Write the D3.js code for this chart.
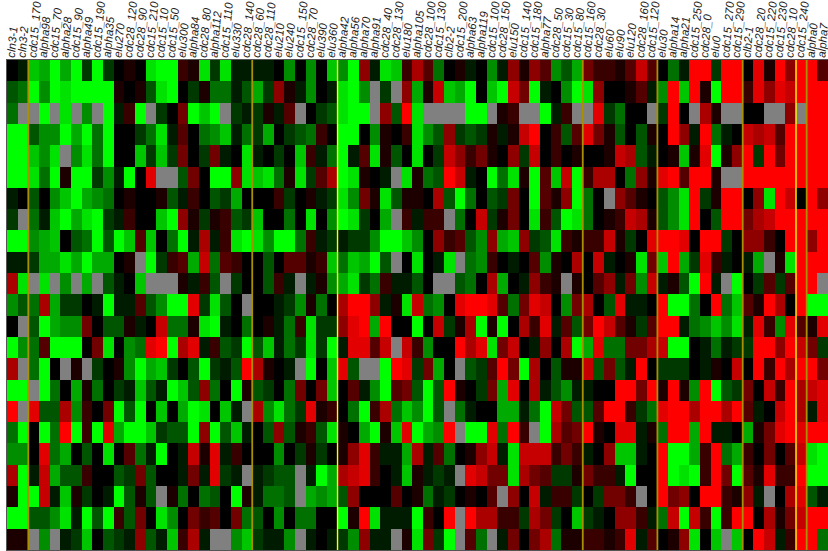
<!DOCTYPE html>
<html>
<head>
<meta charset="utf-8">
<script src="https://cdn.jsdelivr.net/npm/d3@7"></script>
<style>
  html, body { margin: 0; padding: 0; background: #fff; overflow: hidden; }
  svg { display: block; }
</style>
</head>
<body>
<script>

var _ = null;  // missing value, drawn grey

var conditions = ["cln3-1","cln3-2","cdc15_170","alpha98","cdc15_70","alpha28","cdc15_90","alpha49","cdc15_190","alpha35",
    "elu270","cdc28_120","cdc28_90","cdc15_210","cdc15_10","cdc15_50","elu300","alpha84","cdc28_80","alpha112",
    "cdc15_110","elu330","cdc28_140","cdc28_60","cdc28_110","elu210","elu240","cdc15_150","cdc28_70","elu390",
    "elu360","alpha42","alpha56","alpha70","alpha91","cdc28_40","cdc28_130","elu180","alpha105","cdc28_100",
    "cdc15_130","clb2-2","cdc15_200","alpha63","alpha119","cdc15_100","cdc28_150","elu150","cdc15_140","cdc15_180",
    "alpha77","cdc28_50","cdc15_30","cdc15_80","cdc15_160","cdc28_30","elu60","elu90","elu120","cdc28_160",
    "cdc15_120","elu30","alpha14","alpha21","cdc15_250","cdc28_0","elu0","cdc15_270","cdc15_290","clb2-1",
    "cdc28_20","cdc15_220","cdc15_230","cdc28_10","cdc15_240","alpha0","alpha7"];

// expression per gene, -9 full green .. 9 full red
var gene00 = [0,-1,-7,-6,-9,-6,-9,-2,-9,-2,0,1,0,-8,-9,-9,2,1,-8,-2,-8,-1,-1,-1,-1,0,-5,0,-5,0,-7,-5,-9,5,-1,-8,-7,2,6,3,-4,0,1,-1,0,-5,-1,5,1,5,3,-5,-3,-6,4,2,2,1,3,7,3,0,-4,-1,9,9,-2,9,9,0,8,1,9,5,9,9,3];
var gene01 = [-3,-4,-9,-5,-9,-8,-9,-9,-9,-9,1,0,1,-3,-8,-9,0,-2,1,-4,-4,-1,-3,-6,-2,5,1,-1,-5,0,-1,-8,-9,-5,_,-2,_,5,-6,1,7,-7,-6,-9,0,-7,-9,7,4,-9,-1,0,-5,-9,-8,5,0,0,1,3,-1,-5,9,-7,9,1,-9,9,9,2,8,5,8,7,9,9,9];
var gene02 = [-4,_,_,-9,_,-8,_,-5,_,-9,-1,2,-9,_,-2,0,4,-9,-7,-9,_,-2,-1,-2,1,-1,3,_,0,-2,-3,-8,-9,-9,_,5,-3,9,-8,_,_,_,_,-9,-9,_,1,2,_,_,-9,-1,2,_,_,8,-2,-4,0,0,_,-2,9,0,_,6,1,_,_,0,0,_,_,5,_,9,9];
var gene03 = [-9,-9,-3,-5,-5,-9,-6,-9,-4,-9,0,0,-2,-4,-8,-1,3,0,-4,-5,-7,-1,-4,-2,-6,0,-2,-3,-4,2,0,-9,-9,0,-5,1,0,2,-8,-5,-3,5,-2,-3,-2,1,-1,1,7,9,0,2,-3,3,8,4,1,-3,0,-3,1,0,9,5,-1,9,-4,-1,0,7,6,7,3,9,9,9,9];
var gene04 = [-9,-9,-7,-5,-8,_,-5,-8,-4,-9,0,0,-7,-2,-7,-2,4,0,-2,4,-1,0,-8,-1,0,-2,0,-7,2,-1,-4,-9,-1,3,-8,1,-3,0,-8,0,-2,7,5,2,4,1,0,5,-2,7,0,2,0,1,0,0,1,7,6,-3,-1,0,1,-7,1,8,-9,1,5,9,-2,9,4,9,9,9,9];
var gene05 = [-9,-9,-8,-4,-9,1,-9,-9,-2,-5,-1,-9,0,8,_,_,-3,4,0,-9,-9,5,-8,-7,-8,-4,1,-8,-2,3,6,-9,-8,1,0,-1,_,-8,1,-4,-3,9,7,-1,0,-9,-4,-8,1,-9,3,-7,7,-9,2,6,6,0,-4,5,1,8,9,3,9,9,1,_,_,9,9,9,9,9,9,9,9];
var gene06 = [-1,0,-3,0,-5,-7,-9,-6,-5,-4,0,1,0,0,1,-3,-1,2,0,-3,-2,-6,0,0,0,2,-2,0,1,-1,-2,-8,-5,4,1,-8,-3,1,1,0,6,-3,-9,-4,0,-3,-2,4,0,-9,3,1,5,-9,-4,0,_,5,3,1,0,-3,-5,-8,9,-2,1,9,9,0,5,-8,9,7,0,9,5];
var gene07 = [-2,_,-4,-1,-7,-9,-6,-8,-9,-2,-1,2,0,0,-7,-9,5,1,-2,1,2,-3,-2,-7,0,0,-4,0,-8,0,-5,-9,-8,-2,0,-6,_,2,-1,2,2,_,-4,0,7,-2,1,4,0,-8,2,-3,-9,-8,-4,0,1,2,7,6,1,-3,-5,-8,9,0,-3,9,9,4,6,7,9,9,9,9,9];
var gene08 = [-9,-9,-5,-6,-7,0,-3,-4,-9,-3,-9,-7,3,-7,0,-4,-9,-1,6,-1,2,-8,-9,-8,-5,-9,-9,-4,2,-1,-2,-1,-2,-2,-5,-9,-9,-7,-5,0,5,2,3,-3,-5,5,-6,-7,5,-2,-3,-8,2,1,2,2,7,1,-2,0,8,9,9,8,0,9,9,-2,0,5,5,2,0,9,9,5,9];
var gene09 = [-1,-1,-2,-6,-6,-8,-6,-9,-6,-6,0,1,_,-9,-2,2,3,-6,7,-4,3,2,0,0,-3,0,3,3,1,2,-7,-4,-7,-6,-9,-3,_,0,-8,0,-1,-8,_,-4,-5,2,0,-1,0,3,-5,1,0,6,0,7,-1,0,1,-8,4,-7,9,-6,-2,8,2,-1,0,-1,-6,_,1,-8,9,9,9];
var gene10 = [6,-8,_,-8,_,-5,_,-6,_,-3,-1,0,-7,_,_,_,1,-1,2,-3,_,-2,0,0,-3,2,-1,_,-1,1,-5,-6,-8,-2,-4,2,-1,-1,-3,0,_,_,-3,-4,0,6,-6,0,-1,5,2,1,_,1,0,3,5,-1,4,-5,7,-1,1,-3,-9,9,-1,_,-9,0,-2,3,-2,3,9,9,_];
var gene11 = [-5,-3,-4,6,-6,-2,-2,0,-1,-9,-1,-1,3,-3,-5,-9,-9,8,-2,-8,-3,0,_,0,0,-1,-2,-5,1,-4,0,6,9,9,5,-1,1,-8,7,-4,-5,0,8,9,9,8,3,-4,4,8,7,0,-5,4,6,0,-3,8,-1,-1,0,9,-9,-9,-4,0,9,-4,-7,3,1,9,6,0,9,-9,-9];
var gene12 = [0,_,-3,-9,-6,-5,-5,4,0,-3,-3,1,-1,0,7,-4,-4,1,-8,-9,-1,0,-4,0,1,-1,-4,2,-8,-2,-2,5,8,9,-6,9,0,0,-9,0,7,-2,1,6,-9,1,-9,0,6,2,8,-1,3,-3,4,9,7,3,1,-2,3,9,9,-1,-4,-5,-7,-5,-8,-1,8,2,-5,8,3,1,8];
var gene13 = [-9,-5,-4,3,-9,-9,-9,0,4,-8,0,-5,-4,8,9,-9,6,8,-1,2,-3,-2,-9,-3,-7,-1,-4,-2,-8,-2,-9,-1,8,8,3,7,_,7,2,-5,0,0,9,6,8,-8,4,7,0,-1,5,0,6,-9,-6,8,-4,-4,4,4,6,7,-9,-9,0,-1,-4,-1,-2,-2,9,9,5,9,7,4,-2];
var gene14 = [6,_,-4,-9,0,_,1,_,-2,0,1,-5,-9,-6,-7,-2,0,-3,-9,-2,-1,-3,9,6,1,0,-1,_,-9,0,-7,8,-3,_,_,-9,9,8,-2,4,-6,0,_,-3,-2,3,9,4,-9,6,0,-3,1,1,7,-3,4,-3,-1,9,0,-2,-2,-2,0,-1,1,0,7,0,9,2,9,6,9,9,4];
var gene15 = [-9,-9,_,-9,-4,0,-6,1,-4,0,-2,-1,-7,-3,-1,-9,-7,-3,5,-4,0,-9,1,-3,-2,0,-4,4,0,4,-7,0,3,-1,-5,-9,3,4,-3,-9,-3,9,1,0,-2,4,-6,8,0,6,-1,-3,-5,-1,-1,0,0,9,9,4,9,1,9,1,-5,9,-9,-3,-2,4,0,7,2,9,6,7,8];
var gene16 = [9,_,8,-3,-3,6,-5,2,0,4,-9,-3,-9,0,-7,0,-6,-9,-8,0,-7,-1,_,6,-5,-8,-4,-2,8,1,2,0,-4,-9,2,6,-4,-7,-5,-9,-3,_,-4,-1,0,0,-6,-6,-1,-4,-9,7,4,-3,-3,3,9,9,2,-2,-4,8,9,9,6,9,9,6,9,3,-1,0,7,9,6,-1,8];
var gene17 = [-4,-9,0,-9,-4,9,-9,2,-9,8,-6,-9,-9,-7,-2,-3,-3,-9,5,-9,-3,-7,-1,0,-3,5,-3,1,2,-3,-8,1,0,-6,-9,1,-7,8,-9,-6,-5,9,_,-9,-9,8,-4,9,2,_,-9,6,3,4,9,1,0,8,8,-1,1,-4,9,9,-6,9,-1,-1,0,-6,1,4,8,9,8,9,9];
var gene18 = [-5,-5,0,8,-4,-6,0,-3,0,-8,0,3,-4,-1,-9,0,-1,7,1,8,-1,2,0,0,0,-5,0,-2,1,-2,0,1,5,8,2,-1,-1,-6,6,-1,3,-4,0,1,5,7,-1,-8,7,7,7,2,4,2,-1,0,5,-7,-7,-1,0,9,-9,-9,-6,2,9,-4,-6,2,0,4,0,3,7,-8,-9];
var gene19 = [6,-9,-1,7,-6,-3,-3,2,0,0,-3,-2,4,-3,0,0,-1,4,-1,8,-2,-1,_,-1,-2,-3,-3,_,-1,-9,-6,6,7,8,2,0,-1,-7,1,-1,-2,-1,_,8,7,4,4,-8,6,4,3,-2,-2,1,4,2,2,-1,-9,0,0,9,-9,-8,-9,2,9,4,-9,3,1,8,2,2,9,-9,-9];
var gene20 = [1,-9,-9,7,-1,-7,1,-2,0,-1,-9,-3,1,-3,_,1,-4,0,-4,-3,0,-9,1,-1,-4,-4,-3,_,-6,-5,-6,-3,5,0,0,0,3,0,1,-4,-1,-2,0,1,0,3,_,5,0,7,-1,2,2,-2,0,-2,4,4,2,_,0,9,4,5,0,9,9,2,1,5,-1,_,0,6,8,-3,-1];
var gene21 = [-9,-9,-3,-3,-5,-8,-1,-9,-3,-9,2,-3,4,0,-8,-5,0,4,2,3,0,4,-4,-3,0,-5,0,-4,-4,0,0,-9,1,9,-8,-1,-1,-1,-9,2,0,9,_,9,6,6,2,2,-2,6,4,-2,0,-7,-2,-1,0,5,5,2,-1,-4,7,-9,7,2,-9,2,9,9,0,6,1,4,7,9,9];
var gene22 = [1,1,_,-5,_,-1,-2,-7,0,-3,-2,-1,5,-3,-1,-7,2,6,-1,_,_,-5,-7,-2,-1,-1,-5,_,-1,0,-1,-2,-5,5,-1,-1,_,1,-8,4,-2,-9,_,3,-4,_,-1,4,0,4,6,-4,1,1,2,2,1,2,8,-1,3,0,1,5,-8,0,-7,_,-7,0,9,7,-1,2,9,9,-4];

var genes = [gene00,gene01,gene02,gene03,gene04,gene05,gene06,gene07,gene08,gene09,gene10,gene11,
    gene12,gene13,gene14,gene15,gene16,gene17,gene18,gene19,gene20,gene21,gene22];

// cluster separators sit on these column edges
var goldEdges = ["cdc15_170","cdc28_60","cdc15_160","elu30","clb2-1","alpha0"];
var yellowEdges = ["alpha42","cdc15_240"];

var width = 828, height = 551;
var margin = {top: 60, right: 0, bottom: 1, left: 7};

var svg = d3.select("body").append("svg")
    .attr("width", width)
    .attr("height", height);

var x = d3.scaleBand()
    .domain(conditions)
    .range([margin.left, width - margin.right]);

var y = d3.scaleBand()
    .domain(d3.range(genes.length))
    .range([margin.top, height - margin.bottom]);

var color = d3.scaleLinear()
    .domain([-9, 0, 9])
    .range(["#00ff00", "#000000", "#ff0000"]);

var row = svg.selectAll("g.row")
    .data(genes)
    .enter().append("g")
    .attr("class", "row")
    .attr("transform", function(d, i) { return "translate(0," + y(i) + ")"; });

row.selectAll("rect")
    .data(function(d) { return d; })
    .enter().append("rect")
    .attr("x", function(d, i) { return x(conditions[i]); })
    .attr("width", x.bandwidth() + 0.3)
    .attr("height", y.bandwidth() + 0.3)
    .attr("shape-rendering", "crispEdges")
    .style("fill", function(d) { return d === null ? "#808080" : color(d); });

// frame
svg.append("rect")
    .attr("x", margin.left - 0.5)
    .attr("y", margin.top - 0.5)
    .attr("width", width - margin.left + 2)
    .attr("height", height - margin.top - margin.bottom + 1)
    .style("fill", "none")
    .style("stroke", "#555");

svg.selectAll("line.gold")
    .data(goldEdges)
    .enter().append("line")
    .attr("class", "gold")
    .attr("x1", function(d) { return x(d); })
    .attr("x2", function(d) { return x(d); })
    .attr("y1", margin.top)
    .attr("y2", height - margin.bottom)
    .style("stroke", "#a89000")
    .style("stroke-width", 1.8);

svg.selectAll("line.yellow")
    .data(yellowEdges)
    .enter().append("line")
    .attr("class", "yellow")
    .attr("x1", function(d) { return x(d); })
    .attr("x2", function(d) { return x(d); })
    .attr("y1", margin.top)
    .attr("y2", height - margin.bottom)
    .style("stroke", "#ffff00")
    .style("stroke-width", 1.4);

var xAxis = d3.axisTop(x)
    .tickSize(0)
    .tickPadding(0);

var axis = svg.append("g")
    .attr("class", "x axis")
    .attr("transform", "translate(0," + margin.top + ")")
    .call(xAxis);

axis.select(".domain").remove();

axis.selectAll("text")
    .attr("transform", "translate(2.5,-2) rotate(-85)")
    .style("text-anchor", "start")
    .style("font-family", "'Liberation Sans', sans-serif")
    .style("font-style", "italic")
    .style("font-size", "11.5px")
    .style("fill", "#222")
    .attr("dy", "0")
    .attr("y", 0);

</script>
</body>
</html>
